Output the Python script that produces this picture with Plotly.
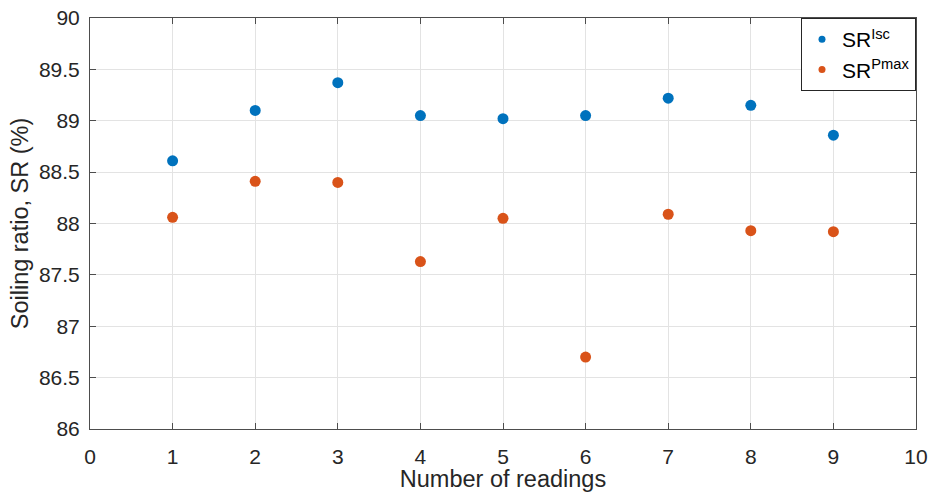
import plotly.graph_objects as go

readings = [1, 2, 3, 4, 5, 6, 7, 8, 9]
sr_isc = [88.61, 89.10, 89.37, 89.05, 89.02, 89.05, 89.22, 89.15, 88.86]
sr_pmax = [88.06, 88.41, 88.40, 87.63, 88.05, 86.70, 88.09, 87.93, 87.92]

series_names = ["SR<sup>Isc</sup>", "SR<sup>Pmax</sup>"]
series_colors = ["#0072BD", "#D95319"]

x_ticks = list(range(0, 11))
y_ticks = [86, 86.5, 87, 87.5, 88, 88.5, 89, 89.5, 90]
y_tick_text = ["86", "86.5", "87", "87.5", "88", "88.5", "89", "89.5", "90"]

FONT = "Liberation Sans, Arial, Helvetica, sans-serif"

fig = go.Figure()
for vals, name, col in zip([sr_isc, sr_pmax], series_names, series_colors):
    fig.add_trace(go.Scatter(x=readings, y=vals, mode="markers", name=name,
                             marker=dict(color=col, size=11), showlegend=False))
# legend-only entries with small markers (as in the reference legend)
for name, col in zip(series_names, series_colors):
    fig.add_trace(go.Scatter(x=[None], y=[None], mode="markers", name=name,
                             marker=dict(color=col, size=7), showlegend=True))

axis_common = dict(showline=True, linecolor="#4d4d4d", linewidth=1, mirror="ticks",
                   ticks="inside", ticklen=6, tickcolor="#4d4d4d",
                   showgrid=True, gridcolor="#e3e3e3", gridwidth=1, zeroline=False,
                   tickfont=dict(family=FONT, size=21, color="#262626"))

fig.update_xaxes(range=[0, 10], tickvals=x_ticks, ticklabelstandoff=9, **axis_common,
                 title=dict(text="Number of readings", standoff=2,
                            font=dict(family=FONT, size=23.5, color="#262626")))
fig.update_yaxes(range=[86, 90], tickvals=y_ticks, ticktext=y_tick_text,
                 ticklabelstandoff=5, **axis_common,
                 title=dict(text="Soiling ratio, SR (%)", standoff=3,
                            font=dict(family=FONT, size=23.5, color="#262626")))

fig.update_layout(
    width=930, height=492,
    margin=dict(l=90, r=14, t=18, b=63, autoexpand=False),
    plot_bgcolor="white", paper_bgcolor="white",
    legend=dict(x=1, y=1, xanchor="right", yanchor="top",
                bordercolor="#262626", borderwidth=1, bgcolor="white",
                font=dict(family=FONT, size=21, color="#000000"),
                tracegroupgap=0),
)

fig.write_html("out.html", config={"displayModeBar": False},
               post_script="document.body.style.margin='0';")
